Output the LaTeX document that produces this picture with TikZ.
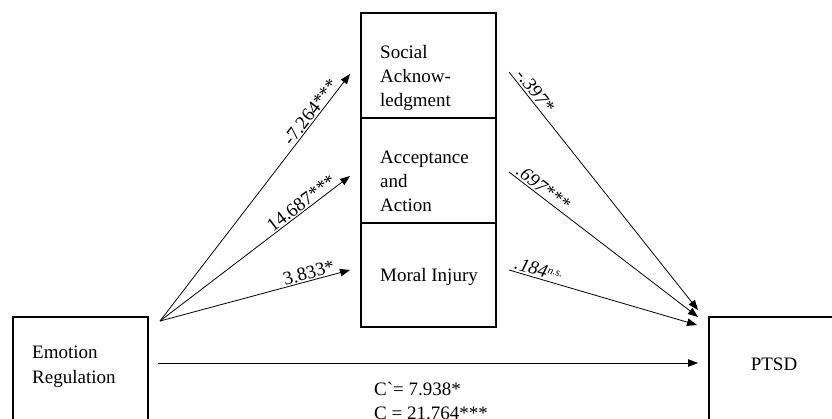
\documentclass[tikz,border=0pt]{standalone}
\usepackage{fontspec}
\setmainfont{Liberation Serif}
\usetikzlibrary{arrows.meta}
\begin{document}
\begin{tikzpicture}[x=1pt,y=-1pt,
  box/.style={draw,line width=1.2pt,inner sep=0pt},
  txt/.style={anchor=base west,inner sep=0pt,font=\fontsize{19}{24}\selectfont},
  ctxt/.style={anchor=base,inner sep=0pt,font=\fontsize{19}{24}\selectfont},
  arr/.style={line width=0.8pt,-{Triangle[length=10pt,width=7.5pt]}},
  lab/.style={sloped,anchor=south east,inner sep=1.2pt,font=\fontsize{19}{20}\selectfont},
  ilab/.style={sloped,anchor=south west,inner sep=1.8pt,font=\fontsize{19}{20}\selectfont\itshape}]
\clip (0,0) rectangle (832,418);
% boxes
\node[box,minimum width=135pt,minimum height=143pt] (er) at (80.5,388.5) {};
\node[box,minimum width=191pt,minimum height=143pt] (pt) at (804.5,388.5) {};
\node[box,minimum width=135pt,minimum height=105pt] (soc) at (428.5,65.5) {};
\node[box,minimum width=135pt,minimum height=105pt] (acc) at (428.5,170.5) {};
\node[box,minimum width=135pt,minimum height=104pt] (mor) at (428.5,275) {};
% texts
\node[txt] (e1) at (32,358) {Emotion};
\node[txt] (e2) at (32,383) {Regulation};
\node[ctxt] (p1) at (774,370) {PTSD};
\node[txt] (s1) at (380,58) {Social};
\node[txt] (s2) at (380,82) {Acknow-};
\node[txt] (s3) at (380,106) {ledgment};
\node[txt] (a1) at (380,163) {Acceptance};
\node[txt] (a2) at (380,187) {and};
\node[txt] (a3) at (380,211) {Action};
\node[txt] (m1) at (380,281) {Moral Injury};
\node[txt] (c1) at (374,395) {C\textasciigrave= 7.938*};
\node[txt] (c2) at (374,419) {C = 21.764***};
% coordinates
\coordinate (src) at (160,321);
\coordinate (ts) at (350,74);
\coordinate (ta) at (350,176);
\coordinate (tm) at (350,270);
\coordinate (fs) at (509,72);
\coordinate (fa) at (509,172);
\coordinate (fm) at (509,270);
\coordinate (d1) at (698,310);
\coordinate (d2) at (698,317);
\coordinate (d3) at (697,325);
\coordinate (h1) at (158,363);
\coordinate (h2) at (698,363);
% arrows
\draw[arr] (src) -- node[lab,pos=0.955] (l1) {-7.264***} (ts);
\draw[arr] (src) -- node[lab,pos=0.945] (l2) {14.687***} (ta);
\draw[arr] (src) -- node[lab,pos=0.935] (l3) {3.833*} (tm);
\draw[arr] (fs) -- node[ilab,pos=0.015] (r1) {-.397*} (d1);
\draw[arr] (fa) -- node[ilab,pos=0.015] (r2) {.697***} (d2);
\draw[arr] (fm) -- node[ilab,pos=0.01] (r3) {.184\raisebox{5pt}{\fontsize{11}{11}\selectfont n.s.}} (d3);
\draw[arr] (h1) -- (h2);
\end{tikzpicture}
\end{document}
